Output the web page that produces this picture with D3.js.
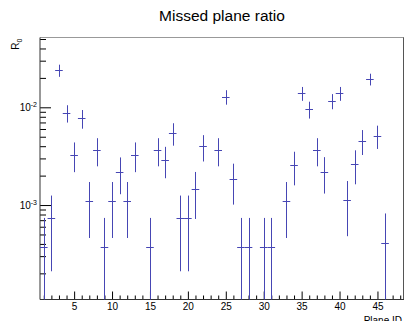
<!DOCTYPE html>
<html>
<head>
<meta charset="utf-8">
<script src="https://cdn.jsdelivr.net/npm/d3@7"></script>
<style>
  body { margin: 0; background: #fff; }
  svg { display: block; font-family: "Liberation Sans", Arial, sans-serif; }
</style>
</head>
<body>
<svg width="405" height="321"></svg>
<script>
// plane id (bin centres), ratio and its error (0 = empty bin)
var planeIds = d3.range(1, 49);
var ratio = [3.69e-4, 7.3e-4, 0.0239, 8.74e-3, 3.27e-3, 7.71e-3, 1.09e-3, 3.66e-3, 3.69e-4, 1.09e-3,
             2.18e-3, 1.09e-3, 3.27e-3, 0, 3.69e-4, 3.66e-3, 2.91e-3, 5.46e-3, 7.3e-4, 7.3e-4,
             1.45e-3, 3.99e-3, 0, 3.66e-3, 0.0128, 1.83e-3, 3.69e-4, 3.69e-4, 0, 3.69e-4,
             3.69e-4, 0, 1.09e-3, 2.55e-3, 0.0139, 9.54e-3, 3.66e-3, 2.2e-3, 0.0116, 0.0139,
             1.12e-3, 2.63e-3, 4.55e-3, 0.0194, 5.12e-3, 4.1e-4, 0, 0];
var ratioErr = [3.69e-4, 5.2e-4, 3.4e-3, 1.76e-3, 1.1e-3, 1.67e-3, 6.3e-4, 1.17e-3, 3.69e-4, 6.3e-4,
                8.9e-4, 6.3e-4, 1.1e-3, 0, 3.69e-4, 1.17e-3, 1.03e-3, 1.41e-3, 5.2e-4, 5.2e-4,
                7.3e-4, 1.2e-3, 0, 1.17e-3, 2.16e-3, 8.2e-4, 3.69e-4, 3.69e-4, 0, 3.69e-4,
                3.69e-4, 0, 6.3e-4, 9.6e-4, 2.25e-3, 1.87e-3, 1.17e-3, 8.9e-4, 2.05e-3, 2.25e-3,
                6.4e-4, 1.0e-3, 1.3e-3, 2.67e-3, 1.37e-3, 4.1e-4, 0, 0];
var xMajorTicks = [5, 10, 15, 20, 25, 30, 35, 40, 45];
var yDecades = [-3, -2];

var svg = d3.select("svg");
var plotLeft = 40, plotRight = 404, plotTop = 37.5, plotBottom = 299.5;

var x = d3.scaleLinear().domain([0.5, 48.5]).range([plotLeft, plotRight]);
var y = d3.scaleLog().domain([1.08e-4, 0.0518]).range([plotBottom, plotTop]);

// title
svg.append("text").attr("x", 222).attr("y", 21).attr("text-anchor", "middle")
  .style("font-size", "15.5px").attr("fill", "#000").text("Missed plane ratio");

// clip for the marks
svg.append("clipPath").attr("id", "plot").append("rect")
  .attr("x", plotLeft).attr("y", plotTop).attr("width", plotRight - plotLeft).attr("height", plotBottom - plotTop);

// x axis ticks (inside the frame)
var xMinor = planeIds.filter(function(d) { return xMajorTicks.indexOf(d) < 0; });
svg.append("g").attr("transform", "translate(0," + plotBottom + ")")
  .call(d3.axisBottom(x).tickValues(xMinor).tickSize(-4).tickFormat(""))
  .call(function(g) { g.select(".domain").remove(); });
svg.append("g").attr("transform", "translate(0," + plotBottom + ")")
  .call(d3.axisBottom(x).tickValues(xMajorTicks).tickSize(-8).tickPadding(3).tickFormat(d3.format("d")))
  .call(function(g) {
    g.select(".domain").remove();
    g.selectAll("text").style("font-size", "10px").attr("fill", "#000")
      .attr("font-family", "Liberation Sans, Arial, sans-serif");
  });

// y axis ticks
var yMinor = [];
[-4, -3, -2].forEach(function(p) {
  for (var k = 2; k <= 9; k++) {
    var v = k * Math.pow(10, p);
    if (v > y.domain()[0] && v < y.domain()[1]) yMinor.push(v);
  }
});
var yMajor = yDecades.map(function(p) { return Math.pow(10, p); });
svg.append("g").attr("transform", "translate(" + plotLeft + ",0)")
  .call(d3.axisLeft(y).tickValues(yMinor).tickSize(-6).tickFormat(""))
  .call(function(g) { g.select(".domain").remove(); });
svg.append("g").attr("transform", "translate(" + plotLeft + ",0)")
  .call(d3.axisLeft(y).tickValues(yMajor).tickSize(-11).tickFormat(""))
  .call(function(g) { g.select(".domain").remove(); });

// y labels 10^p
yDecades.forEach(function(p) {
  var t = svg.append("text").attr("x", 37).attr("y", y(Math.pow(10, p)) + 4)
    .attr("text-anchor", "end").style("font-size", "10px").attr("fill", "#000");
  t.append("tspan").text("10");
  t.append("tspan").attr("dy", -4).style("font-size", "7px").text("-" + Math.abs(p));
});

// frame: axes dark, top/right lighter
svg.append("line").attr("x1", plotLeft).attr("x2", plotRight).attr("y1", plotTop).attr("y2", plotTop)
  .attr("stroke", "#999");
svg.append("line").attr("x1", plotRight - 0.5).attr("x2", plotRight - 0.5).attr("y1", plotTop).attr("y2", plotBottom)
  .attr("stroke", "#555");
svg.append("line").attr("x1", plotLeft).attr("x2", plotLeft).attr("y1", plotTop).attr("y2", plotBottom)
  .attr("stroke", "#333");
svg.append("line").attr("x1", plotLeft).attr("x2", plotRight).attr("y1", plotBottom).attr("y2", plotBottom)
  .attr("stroke", "#333");

// error bars
var pts = planeIds.map(function(d, i) { return {id: d, v: ratio[i], e: ratioErr[i]}; })
  .filter(function(d) { return d.v > 0; });
var marks = svg.append("g").attr("clip-path", "url(#plot)")
  .attr("stroke", "#4646b4").attr("stroke-width", 1);
marks.selectAll("line.h").data(pts).enter().append("line").attr("class", "h")
  .attr("x1", function(d) { return x(d.id - 0.5); })
  .attr("x2", function(d) { return x(d.id + 0.5); })
  .attr("y1", function(d) { return Math.round(y(d.v)) + 0.5; })
  .attr("y2", function(d) { return Math.round(y(d.v)) + 0.5; });
marks.selectAll("line.v").data(pts).enter().append("line").attr("class", "v")
  .attr("x1", function(d) { return Math.round(x(d.id)) + 0.5; })
  .attr("x2", function(d) { return Math.round(x(d.id)) + 0.5; })
  .attr("y1", function(d) { return y(d.v + d.e); })
  .attr("y2", function(d) { var lo = d.v - d.e; return lo > y.domain()[0] ? y(lo) : plotBottom + 5; });

// axis titles
svg.append("text").attr("x", 402).attr("y", 324).attr("text-anchor", "end")
  .style("font-size", "10px").attr("fill", "#000").text("Plane ID");
var yt = svg.append("text").attr("transform", "translate(19," + (plotTop + 1) + ") rotate(-90)")
  .attr("text-anchor", "end").style("font-size", "10px").attr("fill", "#000");
yt.append("tspan").text("R");
yt.append("tspan").attr("dy", 3).style("font-size", "7px").text("0");
</script>
</body>
</html>
